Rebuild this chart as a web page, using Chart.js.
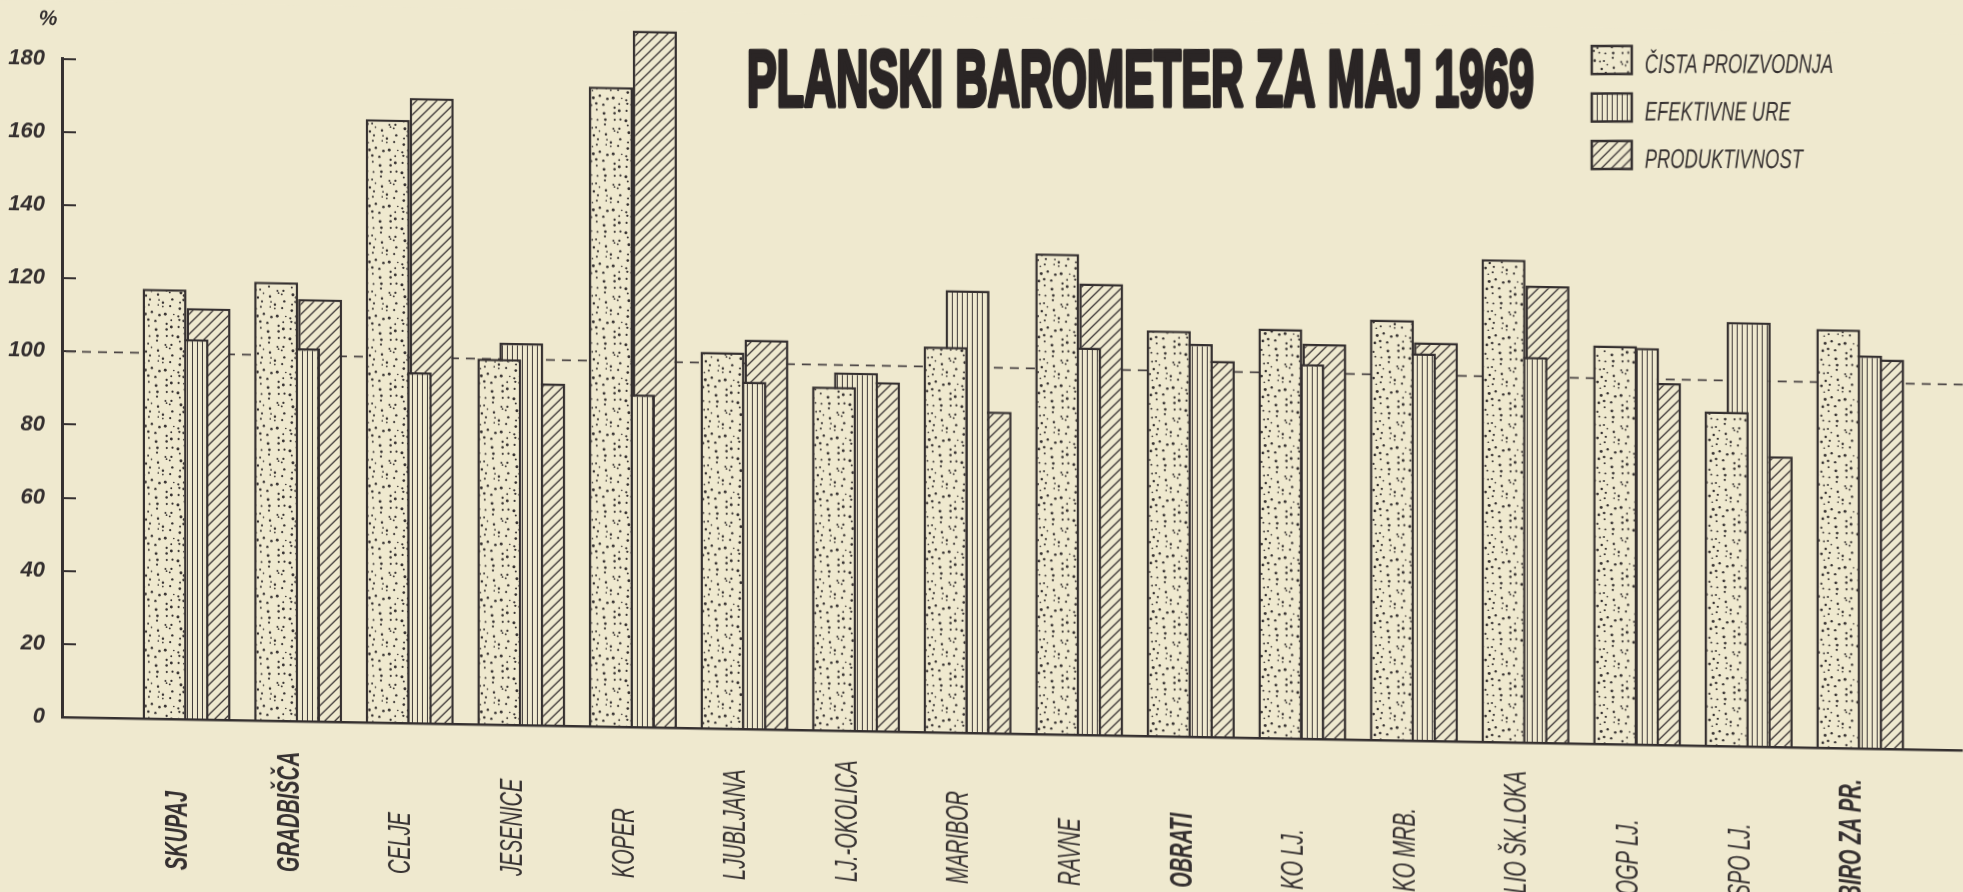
<!DOCTYPE html>
<html>
<head>
<meta charset="utf-8">
<script src="https://cdn.jsdelivr.net/npm/chart.js@4.4.1/dist/chart.umd.min.js"></script>
<style>
  html, body { margin: 0; padding: 0; background: #efe9cf; overflow: hidden; width: 1963px; height: 892px; }
  #wrap { position: absolute; left: 0; top: 0; width: 1963px; height: 892px; transform: skewY(1deg); transform-origin: 0 0; }
</style>
</head>
<body>
<div id="wrap"><canvas id="c"></canvas></div>
<script>
// ---- data ----
const categories = ['SKUPAJ', 'GRADBIŠČA', 'CELJE', 'JESENICE', 'KOPER', 'LJUBLJANA', 'LJ.-OKOLICA', 'MARIBOR',
  'RAVNE', 'OBRATI', 'KO LJ.', 'KO MRB.', 'LIO ŠK.LOKA', 'OGP LJ.', 'SPO LJ.', 'BIRO ZA PR.'];
const boldCategories = ['SKUPAJ', 'GRADBIŠČA', 'OBRATI', 'BIRO ZA PR.'];
const cistaProizvodnja = [117.5, 120, 165, 100, 175, 103, 94, 105.5, 131.5, 111, 112, 115, 132, 109, 91.5, 114.5];
const efektivneUre     = [104, 102, 96, 104.5, 91, 95, 98, 121, 106, 107.5, 102.5, 106, 105.5, 108.5, 116, 107.5];
const produktivnost    = [112.5, 115.5, 171, 93.5, 190.5, 106.5, 95.5, 88, 123.5, 103, 108, 109, 125, 99, 79.5, 106.5];
const seriesNames = ['ČISTA PROIZVODNJA', 'EFEKTIVNE URE', 'PRODUKTIVNOST'];
const yTickValues = [0, 20, 40, 60, 80, 100, 120, 140, 160, 180];
const planLevel = 100;
const titleText = 'PLANSKI BAROMETER ZA MAJ 1969';
const unitText = '%';

// ---- styles ----
const PAPER = '#efe9cf';
const INK = '#353030';
const T = Math.tan(1 * Math.PI / 180); // matches CSS skewY(1deg)

function makeDots() {
  const s = 56, cv = document.createElement('canvas');
  cv.width = cv.height = s;
  const g = cv.getContext('2d');
  g.fillStyle = PAPER; g.fillRect(0, 0, s, s);
  g.fillStyle = INK;
  let h = 987654321;
  const nx = () => { h = (h * 1103515245 + 12345) % 2147483648; return h / 2147483648; };
  for (let gy = 0; gy < 8; gy++) {
    for (let gx = 0; gx < 8; gx++) {
      const x = gx * 7 + 1 + nx() * 5, y = gy * 7 + 1 + nx() * 5, r = 0.8 + nx() * 0.7;
      g.beginPath(); g.arc(x, y, r, 0, Math.PI * 2); g.fill();
    }
  }
  return g.createPattern(cv, 'repeat');
}
function makeVertical() {
  const cv = document.createElement('canvas');
  cv.width = 5; cv.height = 4;
  const g = cv.getContext('2d');
  g.fillStyle = PAPER; g.fillRect(0, 0, 5, 4);
  g.fillStyle = '#3e3838'; g.fillRect(2, 0, 1, 4);
  return g.createPattern(cv, 'repeat');
}
function makeHatch() {
  const s = 10, cv = document.createElement('canvas');
  cv.width = cv.height = s;
  const g = cv.getContext('2d');
  g.fillStyle = PAPER; g.fillRect(0, 0, s, s);
  g.strokeStyle = '#3e3838'; g.lineWidth = 1.3;
  g.beginPath();
  g.moveTo(-1, s + 1); g.lineTo(s + 1, -1);
  g.moveTo(-1, 1); g.lineTo(1, -1);
  g.moveTo(s - 1, s + 1); g.lineTo(s + 1, s - 1);
  g.stroke();
  return g.createPattern(cv, 'repeat');
}
const patterns = [makeDots(), makeVertical(), makeHatch()];

const X_MIN = -1.1165, X_MAX = 15.918;

const decorPlugin = {
  id: 'decor',
  beforeDraw(chart) {
    const c = chart.ctx;
    c.save(); c.fillStyle = PAPER; c.fillRect(0, 0, chart.width, chart.height); c.restore();
  },
  beforeDatasetsDraw(chart) {
    const c = chart.ctx, y = chart.scales.y.getPixelForValue(planLevel);
    c.save();
    c.setLineDash([9, 7]); c.strokeStyle = '#4a4444'; c.lineWidth = 1.7;
    c.beginPath(); c.moveTo(chart.chartArea.left + 4, y); c.lineTo(chart.width, y); c.stroke();
    c.restore();
  },
  afterDraw(chart) {
    const c = chart.ctx;
    const area = chart.chartArea;
    const xs = chart.scales.x;
    // category labels, read bottom-to-top
    categories.forEach((lab, i) => {
      const px = xs.getPixelForValue(i) - 8;
      c.save();
      c.translate(px, area.bottom + 151);
      c.rotate(-Math.PI / 2);
      c.scale(0.64, 1);
      const bold = boldCategories.includes(lab);
      c.font = (bold ? 'italic bold ' : 'italic ') + '31px "Liberation Sans", Arial, sans-serif';
      c.textAlign = 'left'; c.textBaseline = 'middle'; c.fillStyle = INK;
      c.fillText(lab, 0, 0);
      c.restore();
    });
    // level text (title, legend, unit) - undo the page skew
    c.save();
    c.transform(1, -T, 0, 1, 0, 0);
    // unit
    c.font = 'italic bold 21px "Liberation Sans", Arial, sans-serif';
    c.fillStyle = INK; c.textAlign = 'center'; c.textBaseline = 'alphabetic';
    c.fillText(unitText, 48, 25);
    // title
    c.save();
    c.font = 'bold 80px "Liberation Sans Narrow", "Liberation Sans", Arial, sans-serif';
    const w = c.measureText(titleText).width;
    c.translate(747, 106);
    c.scale(787 / w, 1);
    c.textAlign = 'left';
    c.fillStyle = '#2a2525'; c.strokeStyle = '#2a2525'; c.lineWidth = 4.5; c.lineJoin = 'round';
    c.fillText(titleText, 0, 0);
    c.strokeText(titleText, 0, 0);
    c.restore();
    // legend
    seriesNames.forEach((name, k) => {
      const top = 46 + k * 47.5;
      c.fillStyle = patterns[k];
      c.fillRect(1592, top, 40, 28);
      c.strokeStyle = INK; c.lineWidth = 2.5;
      c.strokeRect(1592, top, 40, 28);
      c.save();
      c.translate(1645, top + 27);
      c.scale(0.68, 1);
      c.font = 'italic 27px "Liberation Sans", Arial, sans-serif';
      c.fillStyle = INK; c.textAlign = 'left'; c.textBaseline = 'alphabetic';
      c.fillText(name, 0, 0);
      c.restore();
    });
    c.restore();
  }
};

const toPoints = arr => arr.map((v, i) => ({ x: i, y: v }));

new Chart(document.getElementById('c'), {
  type: 'bar',
  data: {
    datasets: [
      { label: seriesNames[0], data: toPoints(cistaProizvodnja), backgroundColor: patterns[0],
        borderColor: INK, borderWidth: 2.5, categoryPercentage: 0.5914, barPercentage: 2, clip: false },
      { label: seriesNames[1], data: toPoints(efektivneUre), backgroundColor: patterns[1],
        borderColor: INK, borderWidth: 2.5, categoryPercentage: 0.5914, barPercentage: 2, clip: false },
      { label: seriesNames[2], data: toPoints(produktivnost), backgroundColor: patterns[2],
        borderColor: INK, borderWidth: 2.5, categoryPercentage: 0.5914, barPercentage: 2, clip: false }
    ]
  },
  options: {
    responsive: true,
    maintainAspectRatio: false,
    animation: false,
    events: [],
    layout: { padding: { top: 57.9, bottom: 176.1, left: 0, right: 0 } },
    plugins: { legend: { display: false }, tooltip: { enabled: false }, title: { display: false } },
    scales: {
      x: {
        type: 'linear', min: X_MIN, max: X_MAX, offset: false,
        grid: { display: false, drawTicks: false },
        border: { display: true, color: INK, width: 2.5 },
        ticks: { display: false, stepSize: 1, includeBounds: false },
        afterFit(s) { s.height = 0; }
      },
      y: {
        min: 0, max: 180,
        afterBuildTicks(s) { s.ticks = yTickValues.map(v => ({ value: v })); },
        grid: { display: true, drawOnChartArea: false, drawTicks: true, tickLength: -14, color: INK, lineWidth: 2 },
        border: { display: true, color: INK, width: 3 },
        ticks: { padding: 31, color: INK,
          font: { family: '"Liberation Sans", Arial, sans-serif', size: 22, style: 'italic', weight: 'bold' } },
        afterFit(s) { s.width = 62; }
      }
    }
  },
  plugins: [decorPlugin]
});
</script>
</body>
</html>
